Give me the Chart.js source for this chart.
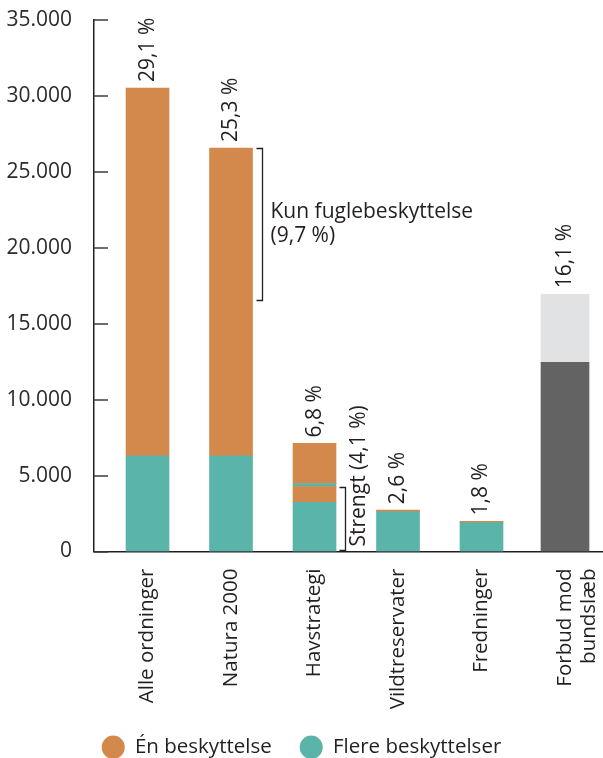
<!DOCTYPE html>
<html lang="da">
<head>
<meta charset="utf-8">
<title>Beskyttede havområder</title>
<script src="https://cdn.jsdelivr.net/npm/chart.js@4.4.1/dist/chart.umd.min.js"></script>
<style>
    html, body { margin: 0; padding: 0; background: #fff; }
    canvas { display: block; }
</style>
</head>
<body>
<canvas id="beskyttelseChart" width="603" height="758"></canvas>
<script>
// Kategorier
const kategorier = ['Alle ordninger', 'Natura 2000', 'Havstrategi', 'Vildtreservater', 'Fredninger', ['Forbud mod', 'bundslæb']];

// Areal (km²)
const flereBeskyttelser = [6300, 6300, 3230, 2620, 1900, null];
const enBeskyttelse = [24220, 20270, 1050, 100, 80, null];
const flereBeskyttelser2 = [null, null, 200, null, null, null];
const enBeskyttelse2 = [null, null, 2640, null, null, null];
const bundslaebMoerk = [null, null, null, null, null, 12460];
const bundslaebLys = [null, null, null, null, null, 4480];

// Procenter over søjlerne
const procentLabels = ['29,1 %', '25,3 %', '6,8 %', '2,6 %', '1,8 %', '16,1 %'];

// Y-akse
const yMax = 35000;
const yStep = 5000;

// Klammer: kategori-indeks, fra/til værdi, tekst
const klammer = [
    { kategori: 1, fra: 16400, til: 26570, tekst: ['Kun fuglebeskyttelse', '(9,7 %)'], lodret: false },
    { kategori: 2, fra: 0, til: 4250, tekst: ['Strengt (4,1 %)'], lodret: true }
];

const farver = {
    orange: '#d4894c',
    teal: '#5bb4a9',
    moerkGraa: '#636364',
    lysGraa: '#e1e2e4',
    tekst: '#231f20'
};

const FONT = '"Open Sans", "DejaVu Sans", sans-serif';

function tilPunkter(arr) {
    return arr.map((v, i) => ({ x: i, y: v }));
}

function formatTal(v) {
    return String(v).replace(/\B(?=(\d{3})+(?!\d))/g, '.');
}

// Plugin til tickmærker, procenter og klammer
const tegnPlugin = {
    id: 'tegnPlugin',
    afterDraw(chart) {
        const { ctx, scales: { x, y } } = chart;
        ctx.save();

        // Tickmærker på indersiden af y-aksen
        ctx.strokeStyle = '#3c3c3c';
        ctx.lineWidth = 1.5;
        y.ticks.forEach(t => {
            const py = Math.round(y.getPixelForValue(t.value));
            ctx.beginPath();
            ctx.moveTo(x.left, py);
            ctx.lineTo(x.left + 14, py);
            ctx.stroke();
        });

        // Procent-labels over søjlerne
        ctx.fillStyle = farver.tekst;
        ctx.font = '21px ' + FONT;
        ctx.textAlign = 'left';
        ctx.textBaseline = 'middle';
        procentLabels.forEach((lbl, i) => {
            const total = chart.data.datasets.reduce((s, ds) => s + (ds.data[i].y || 0), 0);
            const px = x.getPixelForValue(i);
            const py = y.getPixelForValue(total) - 6;
            ctx.save();
            ctx.translate(px, py);
            ctx.rotate(-Math.PI / 2);
            ctx.fillText(lbl, 0, 0);
            ctx.restore();
        });

        // Klammer
        ctx.strokeStyle = farver.tekst;
        ctx.lineWidth = 1.3;
        klammer.forEach(k => {
            const bx = Math.round(x.getPixelForValue(k.kategori) + 30.5) + 0.5;
            const top = Math.round(y.getPixelForValue(k.til)) + 0.5;
            const bund = Math.round(y.getPixelForValue(k.fra)) - 1.5;
            ctx.beginPath();
            ctx.moveTo(bx - 6, top);
            ctx.lineTo(bx, top);
            ctx.lineTo(bx, bund);
            ctx.lineTo(bx - 6, bund);
            ctx.stroke();

            if (k.lodret) {
                ctx.save();
                ctx.translate(bx + 14, bund - 4);
                ctx.rotate(-Math.PI / 2);
                ctx.textAlign = 'left';
                ctx.fillText(k.tekst[0], 0, 0);
                ctx.restore();
            } else {
                const midt = (top + bund) / 2;
                const linje = 24;
                k.tekst.forEach((t, j) => {
                    const ty = midt + (j - (k.tekst.length - 1) / 2) * linje;
                    ctx.textAlign = 'left';
                    ctx.fillText(t, bx + 8, ty);
                });
            }
        });

        ctx.restore();
    }
};

const ctx = document.getElementById('beskyttelseChart').getContext('2d');
new Chart(ctx, {
    type: 'bar',
    data: {
        datasets: [
            { label: 'Flere beskyttelser', data: tilPunkter(flereBeskyttelser), backgroundColor: farver.teal, barThickness: 43 },
            { label: 'Én beskyttelse', data: tilPunkter(enBeskyttelse), backgroundColor: farver.orange, barThickness: 43 },
            { label: 'Flere beskyttelser (2)', data: tilPunkter(flereBeskyttelser2), backgroundColor: farver.teal, barThickness: 43 },
            { label: 'Én beskyttelse (2)', data: tilPunkter(enBeskyttelse2), backgroundColor: farver.orange, barThickness: 43 },
            { label: 'Forbud mod bundslæb', data: tilPunkter(bundslaebMoerk), backgroundColor: farver.moerkGraa, barThickness: 48 },
            { label: 'Forbud mod bundslæb (øvrig)', data: tilPunkter(bundslaebLys), backgroundColor: farver.lysGraa, barThickness: 48 }
        ]
    },
    options: {
        responsive: false,
        animation: false,
        layout: { padding: { top: 20, right: 0, left: 0, bottom: -9.5 } },
        plugins: {
            tooltip: { enabled: false },
            legend: {
                position: 'bottom',
                labels: {
                    usePointStyle: true,
                    pointStyle: 'circle',
                    boxHeight: 16.5,
                    pointStyleWidth: 23,
                    padding: 28,
                    color: farver.tekst,
                    font: { family: FONT, size: 20.5 },
                    filter: item => item.datasetIndex < 2,
                    sort: (a, b) => b.datasetIndex - a.datasetIndex
                }
            }
        },
        scales: {
            x: {
                type: 'linear',
                stacked: true,
                offset: false,
                bounds: 'data',
                min: -0.641,
                max: 5.455,
                grid: { display: false },
                border: { color: farver.tekst, width: 1.5 },
                afterBuildTicks: scale => {
                    scale.ticks = kategorier.map((_, i) => ({ value: i }));
                },
                afterFit: scale => {
                    scale.height = 157.5;
                    scale.paddingLeft = 0;
                    scale.paddingRight = 0;
                },
                ticks: {
                    autoSkip: false,
                    minRotation: 90,
                    maxRotation: 90,
                    padding: 9,
                    color: farver.tekst,
                    font: { family: FONT, size: 20.5 },
                    callback: value => kategorier[value] ?? ''
                }
            },
            y: {
                stacked: true,
                min: 0,
                max: yMax,
                grid: { display: false },
                border: { color: farver.tekst, width: 1.5 },
                afterFit: scale => {
                    scale.width = 94;
                    scale.paddingTop = 0;
                    scale.paddingBottom = 0;
                },
                ticks: {
                    stepSize: yStep,
                    padding: 14,
                    color: '#2b2b2b',
                    font: { family: FONT, size: 21 },
                    callback: v => formatTal(v)
                }
            }
        }
    },
    plugins: [tegnPlugin]
});
</script>
</body>
</html>
